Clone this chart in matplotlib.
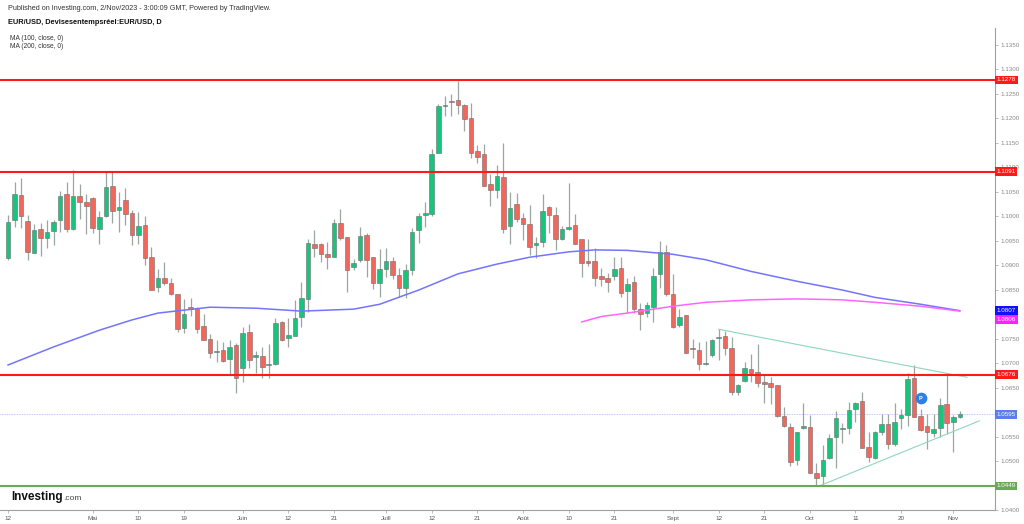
import numpy as np
import pandas as pd
import matplotlib
matplotlib.use("Agg")
from matplotlib import pyplot as plt

plt.rcParams['font.family'] = ['Liberation Sans', 'DejaVu Sans']

# daily EUR/USD bars, 12 Apr 2023 -> 2 Nov 2023 (weekdays)
dates = pd.bdate_range("2023-04-12", "2023-11-02")

opens = [1.0914, 1.0993, 1.1044, 1.0990, 1.0925, 1.0973, 1.0956, 1.0970, 1.0992, 1.1046,
         1.0973, 1.1041, 1.1028, 1.1036, 1.0973, 1.1001, 1.1061, 1.1012, 1.1033, 1.1007,
         1.0961, 1.0982, 1.0917, 1.0856, 1.0874, 1.0863, 1.0840, 1.0772, 1.0815, 1.0813,
         1.0775, 1.0750, 1.0722, 1.0727, 1.0708, 1.0737, 1.0689, 1.0763, 1.0712, 1.0714,
         1.0695, 1.0699, 1.0783, 1.0752, 1.0755, 1.0793, 1.0830, 1.0944, 1.0944, 1.0922,
         1.0917, 1.0986, 1.0958, 1.0897, 1.0910, 1.0961, 1.0916, 1.0864, 1.0893, 1.0908,
         1.0880, 1.0853, 1.0890, 1.0971, 1.1002, 1.1005, 1.1129, 1.1224, 1.1235, 1.1237,
         1.1227, 1.1200, 1.1133, 1.1126, 1.1065, 1.1053, 1.1080, 1.0980, 1.1024, 1.0997,
         1.0984, 1.0940, 1.0947, 1.1019, 1.1002, 1.0953, 1.0973, 1.0982, 1.0953, 1.0908,
         1.0908, 1.0878, 1.0874, 1.0878, 1.0895, 1.0848, 1.0865, 1.0810, 1.0803, 1.0815,
         1.0881, 1.0926, 1.0840, 1.0778, 1.0798, 1.0730, 1.0727, 1.0698, 1.0716, 1.0751,
         1.0756, 1.0730, 1.0640, 1.0663, 1.0687, 1.0682, 1.0661, 1.0660, 1.0655, 1.0592,
         1.0570, 1.0502, 1.0567, 1.0569, 1.0476, 1.0470, 1.0507, 1.0550, 1.0565, 1.0568,
         1.0606, 1.0623, 1.0528, 1.0507, 1.0560, 1.0575, 1.0535, 1.0587, 1.0594, 1.0669,
         1.0592, 1.0571, 1.0558, 1.0567, 1.0616, 1.0579, 1.0589]
highs = [1.1002, 1.1070, 1.1077, 1.1002, 1.0984, 1.0985, 1.0992, 1.0993, 1.1052, 1.1069,
         1.1095, 1.1065, 1.1046, 1.1039, 1.1010, 1.1092, 1.1092, 1.1050, 1.1057, 1.1012,
         1.1009, 1.1000, 1.0937, 1.0893, 1.0907, 1.0874, 1.0841, 1.0831, 1.0832, 1.0815,
         1.0801, 1.0759, 1.0747, 1.0743, 1.0747, 1.0740, 1.0774, 1.0780, 1.0724, 1.0733,
         1.0739, 1.0791, 1.0786, 1.0791, 1.0829, 1.0866, 1.0954, 1.0971, 1.0946, 1.0948,
         1.0995, 1.1014, 1.0958, 1.0912, 1.0978, 1.0965, 1.0916, 1.0932, 1.0935, 1.0917,
         1.0895, 1.0903, 1.0975, 1.1006, 1.1029, 1.1138, 1.1229, 1.1245, 1.1249, 1.1276,
         1.1229, 1.1230, 1.1145, 1.1147, 1.1085, 1.1105, 1.1149, 1.1050, 1.1048, 1.1007,
         1.1022, 1.0958, 1.1045, 1.1020, 1.1019, 1.0980, 1.1067, 1.1005, 1.0953, 1.0954,
         1.0935, 1.0895, 1.0884, 1.0916, 1.0916, 1.0874, 1.0878, 1.0822, 1.0825, 1.0894,
         1.0949, 1.0941, 1.0881, 1.0810, 1.0799, 1.0750, 1.0742, 1.0744, 1.0750, 1.0769,
         1.0765, 1.0754, 1.0657, 1.0703, 1.0718, 1.0739, 1.0675, 1.0672, 1.0655, 1.0611,
         1.0577, 1.0560, 1.0618, 1.0594, 1.0495, 1.0533, 1.0556, 1.0602, 1.0578, 1.0621,
         1.0621, 1.0641, 1.0560, 1.0561, 1.0595, 1.0595, 1.0618, 1.0606, 1.0679, 1.0695,
         1.0607, 1.0597, 1.0597, 1.0628, 1.0677, 1.0594, 1.0603]
lows = [1.0910, 1.0978, 1.0975, 1.0910, 1.0924, 1.0918, 1.0934, 1.0941, 1.0967, 1.0967,
        1.0971, 1.0994, 1.0963, 1.0966, 1.0943, 1.0999, 1.0986, 1.0968, 1.0982, 1.0941,
        1.0944, 1.0901, 1.0849, 1.0846, 1.0859, 1.0839, 1.0764, 1.0761, 1.0796, 1.0762,
        1.0747, 1.0711, 1.0703, 1.0703, 1.0676, 1.0638, 1.0662, 1.0689, 1.0680, 1.0669,
        1.0669, 1.0696, 1.0746, 1.0733, 1.0755, 1.0774, 1.0805, 1.0917, 1.0907, 1.0893,
        1.0917, 1.0952, 1.0846, 1.0890, 1.0907, 1.0876, 1.0852, 1.0835, 1.0875, 1.0871,
        1.0835, 1.0833, 1.0880, 1.0945, 1.0978, 1.1001, 1.1129, 1.1204, 1.1204, 1.1208,
        1.1174, 1.1118, 1.1108, 1.1061, 1.1020, 1.1037, 1.0966, 1.0944, 1.0988, 1.0952,
        1.0920, 1.0914, 1.0936, 1.0965, 1.0931, 1.0952, 1.0971, 1.0944, 1.0875, 1.0898,
        1.0857, 1.0857, 1.0846, 1.0869, 1.0835, 1.0803, 1.0803, 1.0767, 1.0794, 1.0783,
        1.0854, 1.0837, 1.0772, 1.0774, 1.0720, 1.0710, 1.0686, 1.0696, 1.0713, 1.0706,
        1.0716, 1.0635, 1.0635, 1.0662, 1.0662, 1.0652, 1.0619, 1.0616, 1.0589, 1.0569,
        1.0490, 1.0492, 1.0565, 1.0476, 1.0448, 1.0448, 1.0505, 1.0485, 1.0536, 1.0556,
        1.0580, 1.0526, 1.0499, 1.0505, 1.0553, 1.0524, 1.0531, 1.0565, 1.0571, 1.0589,
        1.0562, 1.0524, 1.0550, 1.0550, 1.0556, 1.0519, 1.0587]
closes = [1.0988, 1.1045, 1.1001, 1.0926, 1.0971, 1.0955, 1.0968, 1.0988, 1.1041, 1.0973,
          1.1041, 1.1028, 1.1021, 1.0976, 1.0999, 1.1060, 1.1011, 1.1018, 1.1005, 1.0961,
          1.0980, 1.0915, 1.0849, 1.0873, 1.0863, 1.0840, 1.0769, 1.0801, 1.0810, 1.0769,
          1.0748, 1.0720, 1.0725, 1.0705, 1.0733, 1.0669, 1.0762, 1.0706, 1.0716, 1.0691,
          1.0699, 1.0781, 1.0748, 1.0757, 1.0791, 1.0832, 1.0946, 1.0934, 1.0922, 1.0917,
          1.0985, 1.0956, 1.0890, 1.0905, 1.0959, 1.0910, 1.0864, 1.0891, 1.0908, 1.0880,
          1.0853, 1.0890, 1.0968, 1.1001, 1.1007, 1.1126, 1.1224, 1.1226, 1.1233, 1.1227,
          1.1198, 1.1128, 1.1121, 1.1061, 1.1053, 1.1082, 1.0973, 1.1016, 1.0994, 1.0983,
          1.0936, 1.0946, 1.1011, 1.1003, 1.0954, 1.0973, 1.0977, 1.0944, 1.0905, 1.0905,
          1.0874, 1.0871, 1.0865, 1.0892, 1.0844, 1.0861, 1.0810, 1.0801, 1.0818, 1.0878,
          1.0926, 1.0841, 1.0774, 1.0795, 1.0721, 1.0728, 1.0699, 1.0701, 1.0748, 1.0754,
          1.0730, 1.0641, 1.0656, 1.0690, 1.0679, 1.0660, 1.0658, 1.0651, 1.0592, 1.0571,
          1.0499, 1.0560, 1.0571, 1.0476, 1.0465, 1.0503, 1.0548, 1.0587, 1.0567, 1.0604,
          1.0618, 1.0527, 1.0509, 1.0559, 1.0575, 1.0535, 1.0580, 1.0594, 1.0667, 1.0589,
          1.0563, 1.0560, 1.0565, 1.0614, 1.0577, 1.0589, 1.0596]

# moving averages (bar index, value)
ma100_idx = [0, 7, 14, 19, 23, 31, 38, 45, 53, 57, 63, 69, 75, 80, 86, 90, 95, 102, 107,
             114, 121, 128, 133, 140, 146]
ma100_val = [1.0696, 1.0733, 1.0767, 1.0788, 1.0802, 1.0814, 1.0812, 1.0806, 1.0810, 1.0820,
             1.0849, 1.0882, 1.0902, 1.0916, 1.0927, 1.0931, 1.0930, 1.0922, 1.0911,
             1.0887, 1.0867, 1.0849, 1.0834, 1.0820, 1.0807]
ma200_idx = [88, 91, 95, 102, 107, 114, 121, 128, 133, 140, 146]
ma200_val = [1.0784, 1.0795, 1.0802, 1.0816, 1.0824, 1.0829, 1.0831, 1.0829, 1.0824, 1.0816, 1.0806]

# drawn levels and trend lines
red_levels = [1.1278, 1.1091, 1.0676]
green_level = 1.0449
last_price = 1.0595
trend_upper = ([109, 147.1], [1.0769, 1.0671])
trend_lower = ([124.8, 149.0], [1.0451, 1.0582])

tick_dates = ["2023-04-12", "2023-05-01", "2023-05-10", "2023-05-19", "2023-06-01",
              "2023-06-12", "2023-06-21", "2023-07-03", "2023-07-12", "2023-07-21",
              "2023-08-01", "2023-08-10", "2023-08-21", "2023-09-01", "2023-09-12",
              "2023-09-21", "2023-10-02", "2023-10-11", "2023-10-20", "2023-11-01"]
tick_labels = ["12", "Mai", "10", "19", "Juin", "12", "21", "Juill", "12", "21",
               "Août", "10", "21", "Sept", "12", "21", "Oct", "11", "20", "Nov"]

# price axis labels (the ones hidden behind price tags are left out)
price_ticks = [1.0400, 1.0500, 1.0550, 1.0650, 1.0700, 1.0750, 1.0850, 1.0900, 1.0950,
               1.1000, 1.1050, 1.1100, 1.1150, 1.1200, 1.1250, 1.1300, 1.1350]

UP = "#16c47c"
DOWN = "#f2675c"
WICK = "#9aa69e"

fig = plt.figure(figsize=(10.24, 5.24), dpi=100)
ax = fig.add_axes([0, 14 / 524, 995 / 1024, 482 / 524])

o = np.array(opens)
c = np.array(closes)
x = np.arange(len(o))
up = c >= o
body_lo = np.minimum(o, c)
body_h = np.maximum(np.abs(c - o), 0.00008)

ax.vlines(x, lows, highs, color=WICK, lw=0.9, zorder=2)
ax.bar(x, body_h, bottom=body_lo, width=0.7,
       color=np.where(up, UP, DOWN), edgecolor="#6d6d6d", linewidth=0.4, zorder=3)

ax.plot(ma100_idx, ma100_val, color="#7474ff", lw=1.1, zorder=4)
ax.plot(ma200_idx, ma200_val, color="#ff66ff", lw=1.1, zorder=4)

for lvl in red_levels:
    ax.axhline(lvl, color="#ff1a1a", lw=1.5, zorder=5)
ax.axhline(green_level, color="#6aaa55", lw=1.5, zorder=5)
ax.axhline(last_price, color="#a8b6f2", lw=0.6, ls=(0, (1, 1)), zorder=1)

ax.plot(*trend_upper, color="#8fd6bc", lw=0.8, zorder=4)
ax.plot(*trend_lower, color="#8fd6bc", lw=0.8, zorder=4)

# event marker
ax.scatter([140], [1.0628], s=55, color="#2f80e6", zorder=6)
ax.text(140, 1.0628, "P", color="white", fontsize=4, fontweight="bold",
        ha="center", va="center", zorder=7)

ax.set_xlim(-1.23, 151.4)
ax.set_ylim(1.0400, 1.1384)

for s in ["left", "top"]:
    ax.spines[s].set_visible(False)
for s in ["right", "bottom"]:
    ax.spines[s].set_color("#a0a0a0")
    ax.spines[s].set_linewidth(0.8)

ax.yaxis.tick_right()
ax.set_yticks(price_ticks)
ax.set_yticklabels([f"{v:.4f}" for v in price_ticks])
ax.tick_params(axis="y", length=2, width=0.5, colors="#a0a0a0", labelcolor="#888888",
               labelsize=4.5, pad=2)

tick_pos = [dates.get_loc(pd.Timestamp(d)) for d in tick_dates]
ax.set_xticks(tick_pos)
ax.set_xticklabels(tick_labels)
ax.tick_params(axis="x", length=2, width=0.5, colors="#a0a0a0", labelcolor="#555555",
               labelsize=4.5, pad=2)

# price tags on the right axis (value, colour, vertical nudge)
tags = [(1.1278, "#ff1a1a", 0), (1.1091, "#ff1a1a", 0), (1.0807, "#1010ff", 0),
        (1.0806, "#ff22ff", -0.0017), (1.0676, "#ff1a1a", 0), (last_price, "#5b7fe6", 0),
        (green_level, "#6aaa55", 0)]
ytr = ax.get_yaxis_transform()
for val, col, nudge in tags:
    ax.text(1.0015, val + nudge, f"{val:.4f}", transform=ytr, color="white", fontsize=4.5,
            ha="left", va="center", clip_on=False, zorder=10,
            bbox=dict(boxstyle="square,pad=0.3", fc=col, ec="none"))

# header
fig.text(8 / 1024, 1 - 9 / 524, "Published on Investing.com, 2/Nov/2023 - 3:00:09 GMT, Powered by TradingView.",
         fontsize=5.2, color="#333333", va="center")
fig.text(8 / 1024, 1 - 22 / 524, "EUR/USD, Devisesentempsréel:EUR/USD, D",
         fontsize=5.3, fontweight="bold", color="#111111", va="center")
fig.text(10 / 1024, 1 - 38 / 524, "MA (100, close, 0)", fontsize=4.8, color="#333333", va="center")
fig.text(10 / 1024, 1 - 46 / 524, "MA (200, close, 0)", fontsize=4.8, color="#333333", va="center")

# logo
logo = fig.text(11 / 1024, 1 - 497 / 524, "Investing", fontsize=8.5, fontweight="bold",
                color="#111111", va="center", family=["Liberation Sans Narrow", "Liberation Sans"])
fig.canvas.draw()
bb = logo.get_window_extent()
fig.text(bb.x1 / 1024 + 0.0005, 1 - 498.5 / 524, ".com", fontsize=6, color="#444444", va="center",
         family=["Liberation Sans Narrow", "Liberation Sans"])

fig.savefig("out.png", dpi=100, facecolor="white")
